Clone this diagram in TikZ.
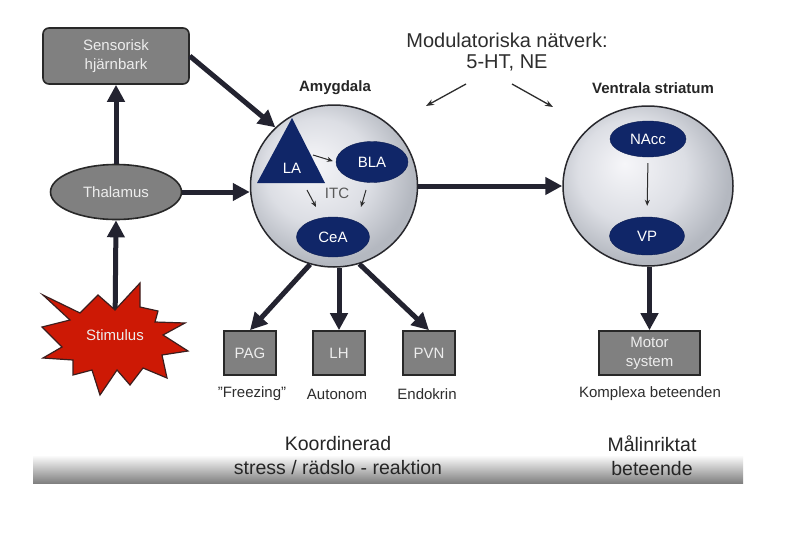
\documentclass[tikz,border=0pt]{standalone}
\usepackage{fontspec}
\setmainfont{Liberation Sans}
\usetikzlibrary{shapes.geometric,arrows.meta,calc}

\definecolor{navy}{RGB}{16,38,104}
\definecolor{arrowc}{RGB}{35,35,48}
\definecolor{boxgray}{RGB}{128,128,128}
\definecolor{boxedge}{RGB}{40,40,40}
\definecolor{txtgray}{RGB}{45,45,45}
\definecolor{starred}{RGB}{205,25,5}
\definecolor{staredge}{RGB}{60,30,30}
\definecolor{circedge}{RGB}{40,40,45}
\definecolor{circin}{RGB}{246,246,249}
\definecolor{circmid}{RGB}{220,222,228}
\definecolor{circout}{RGB}{180,184,192}
\definecolor{bandbot}{RGB}{128,128,128}

\pgfdeclareradialshading{spheresh}{\pgfpoint{-7bp}{7bp}}{color(0bp)=(circin); color(16bp)=(circmid); color(27bp)=(circout); color(50bp)=(circout)}

\begin{document}
\begin{tikzpicture}[x=1pt,y=-1pt,
  every node/.style={font=\fontsize{15}{19}\selectfont, text=txtgray},
  graybox/.style={draw=boxedge, line width=1.6pt, fill=boxgray, text=white!93!black, align=center, inner sep=0pt},
  navyell/.style={ellipse, fill=navy, draw=navy!80!black, text=white, inner sep=0pt},
  sphere/.style={ellipse, draw=circedge, line width=1.5pt, shading=spheresh, inner sep=0pt},
  bigarrow/.style={draw=arrowc, line width=5pt, -{Triangle[length=17pt,width=17pt]}},
  thinarrow/.style={draw=txtgray, line width=1pt, -{Stealth[length=6pt,width=5pt]}},
  modarrow/.style={draw=txtgray, line width=1.3pt, -{Stealth[length=8pt,width=6pt]}},
  labelb/.style={font=\bfseries\fontsize{15}{19}\selectfont, text=black!85},
]
\useasboundingbox (0,0) rectangle (810,546);
\fill[white] (0,0) rectangle (810,546);

% bottom band
\shade[top color=white, bottom color=bandbot] (33,455) rectangle (743,483);

% main nodes
\node[graybox, rounded corners=6pt, minimum width=146pt, minimum height=56pt] (sens) at (116,56) {Sensorisk\\hjärnbark};
\node[graybox, ellipse, minimum width=131pt, minimum height=55pt] (thal) at (116,192) {Thalamus};

\node[sphere, minimum width=167pt, minimum height=162pt] (amy) at (334,186) {};
\node[sphere, minimum width=170pt, minimum height=160pt] (str) at (648,186) {};

\node[labelb] (amylab) at (335,88) {Amygdala};
\node[labelb] (strlab) at (653,88) {Ventrala striatum};

% amygdala interior
\fill[navy] (292,118) -- (325,183) -- (257,183) -- cycle;
\node[text=white] (la) at (292,168) {LA};
\node[navyell, minimum width=72pt, minimum height=41pt] (bla) at (372,162) {BLA};
\node[navyell, minimum width=73pt, minimum height=40pt] (cea) at (333,237) {CeA};
\node[text=black!65] (itc) at (337,193) {ITC};

\coordinate (laout) at (313,155);
\coordinate (itcl1) at (307,190);
\coordinate (itcl2) at (316,207);
\coordinate (itcr1) at (366,190);
\coordinate (itcr2) at (361,207);
\draw[thinarrow, shorten >=3pt] (laout) -- (bla.west);
\draw[thinarrow] (itcl1) -- (itcl2);
\draw[thinarrow] (itcr1) -- (itcr2);

% striatum interior
\node[navyell, minimum width=76pt, minimum height=36pt] (nacc) at (648,139) {NAcc};
\node[navyell, minimum width=75pt, minimum height=38pt] (vp) at (647,236) {VP};
\draw[thinarrow, shorten <=6pt, shorten >=11pt] (nacc.south) -- (vp.north);

% modulatory text
\node[font=\fontsize{20}{21}\selectfont, align=center] (mod) at (507,52) {Modulatoriska nätverk:\\5-HT, NE};
\coordinate (modl1) at (466,84);
\coordinate (modl2) at (426,106);
\coordinate (modr1) at (512,84);
\coordinate (modr2) at (553,107);
\draw[modarrow] (modl1) -- (modl2);
\draw[modarrow] (modr1) -- (modr2);

% output boxes
\node[graybox, minimum width=52pt, minimum height=44pt] (pag) at (250,353) {PAG};
\node[graybox, minimum width=52pt, minimum height=44pt] (lh) at (339,353) {LH};
\node[graybox, minimum width=52pt, minimum height=44pt] (pvn) at (429,353) {PVN};
\node[graybox, minimum width=101pt, minimum height=44pt] (motor) at (649.5,353) {Motor\\system};

\node (freez) at (252,394) {"Freezing"};
\node (auton) at (337,394) {Autonom};
\node (endok) at (427,394) {Endokrin};
\node (kompl) at (650,394) {Komplexa beteenden};

% bottom texts
\node[font=\fontsize{19.5}{24}\selectfont, align=center, text=black!85] (koord) at (338,456) {Koordinerad\\stress / rädslo - reaktion};
\node[font=\fontsize{19.5}{24}\selectfont, align=center, text=black!85] (malin) at (652,456) {Målinriktat\\beteende};

% stimulus
\coordinate (stimc) at (115,330);
\draw[bigarrow] (stimc) -- (thal.south);
\filldraw[fill=starred, draw=staredge, line width=1.2pt, line join=miter]
  (43,295) -- (80,313) -- (98,295) -- (115,310) -- (140,283) -- (140,307) --
  (158,311) -- (155,322) -- (185,323) -- (163,335) -- (188,351) -- (162,355) --
  (167,378) -- (143,368) -- (130,385) -- (117,370) -- (100,395) -- (92,370) --
  (73,375) -- (73,360) -- (43,358) -- (62,347) -- (42,327) -- (70,320) -- cycle;
\node[text=white!93!black] (stim) at (115,335) {Stimulus};

% thick connectors
\draw[bigarrow] (thal.north) -- (sens.south);
\draw[bigarrow] (sens.east) -- (amy.135);
\draw[bigarrow] (thal.east) -- (thal.east -| amy.west);
\draw[bigarrow] (amy.east) -- (str.west);
\draw[bigarrow] (amy.-107) -- (pag.north);
\draw[bigarrow] (lh.north |- amy.south) -- (lh.north);
\draw[bigarrow] (amy.-72) -- (pvn.north);
\draw[bigarrow] (motor.north |- str.south) -- (motor.north);
\end{tikzpicture}
\end{document}
